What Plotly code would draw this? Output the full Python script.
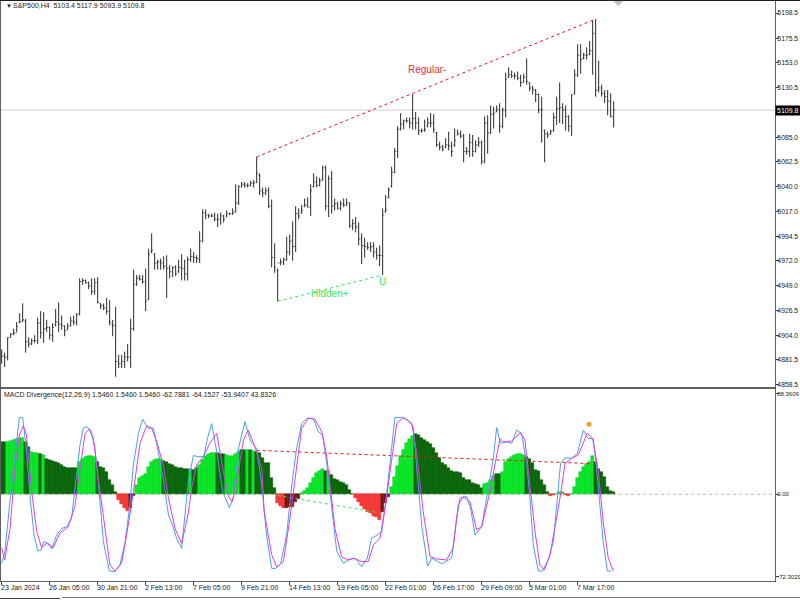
import plotly.graph_objects as go

# ---------- price data (S&P500, H4) ----------
high = [4891,4888,4902,4906,4910,4916,4924,4933,4919,4902,4901,4904,4920,4926,4925,4918,4912,4915,4928,4934,
4922,4913,4915,4921,4922,4924,4956,4956,4955,4953,4956,4956,4957,4933,4933,4938,4936,4918,4930,4886,
4886,4889,4896,4919,4964,4959,4959,4959,4965,4983,4997,4979,4973,4974,4976,4977,4968,4967,4968,4973,
4978,4973,4976,4983,4980,4977,4999,5019,5019,5015,5015,5016,5015,5016,5014,5018,5016,5020,5042,5041,
5044,5044,5043,5045,5046,5067,5052,5039,5039,5039,5028,4988,4965,4974,4975,4994,4996,5008,5022,5020,
5023,5029,5030,5042,5052,5049,5048,5059,5059,5050,5054,5029,5026,5027,5029,5029,5025,5010,5012,5007,
4997,4993,4989,4989,4989,4984,4986,5020,5032,5039,5058,5075,5095,5107,5101,5103,5103,5124,5108,5103,
5093,5101,5103,5107,5106,5090,5081,5078,5084,5090,5081,5093,5092,5091,5088,5076,5088,5087,5082,5085,
5082,5104,5105,5114,5113,5114,5116,5112,5144,5149,5146,5144,5145,5142,5143,5157,5135,5132,5129,5125,
5122,5092,5090,5092,5107,5122,5135,5116,5114,5105,5124,5147,5170,5170,5162,5167,5173,5192,5193,5155,
5133,5128,5128,5125,5117.9]
low = [4878,4875,4881,4902,4904,4907,4915,4916,4888,4893,4895,4897,4896,4901,4897,4907,4900,4898,4912,4907,
4909,4903,4909,4912,4913,4913,4922,4950,4951,4946,4941,4941,4933,4928,4927,4923,4913,4903,4866,4874,
4874,4874,4880,4874,4908,4949,4954,4951,4926,4936,4979,4964,4964,4964,4964,4938,4956,4957,4958,4961,
4954,4954,4954,4971,4970,4970,4970,4989,5010,5011,5012,5008,5003,5005,5007,5012,5014,5014,5016,5023,
5039,5039,5039,5040,5039,5043,5032,5030,5032,5020,4966,4961,4935,4968,4968,4972,4977,4972,4980,5010,
5015,5021,5021,5013,5039,5039,5040,5045,5018,5012,5015,5018,5019,5018,5021,5022,5002,5000,4998,4986,
4969,4975,4982,4980,4975,4973,4967,4959,5016,5029,5039,5052,5066,5091,5092,5098,5093,5092,5092,5087,
5089,5090,5094,5094,5089,5076,5073,5072,5075,5073,5067,5076,5087,5084,5062,5069,5067,5067,5071,5076,
5060,5061,5070,5088,5093,5108,5089,5093,5103,5139,5139,5138,5137,5131,5135,5133,5127,5124,5117,5107,
5080,5062,5084,5087,5090,5096,5098,5097,5091,5090,5086,5124,5140,5143,5156,5156,5160,5142,5122,5126,
5122,5116,5105,5103,5093.9]
close = [4885,4884,4902,4905,4906,4912,4916,4918,4898,4896,4899,4899,4915,4906,4910,4911,4904,4911,4916,4914,
4913,4908,4912,4917,4916,4923,4953,4954,4952,4949,4944,4952,4934,4931,4929,4926,4916,4913,4880,4878,
4880,4884,4884,4910,4950,4956,4955,4953,4935,4978,4982,4970,4971,4970,4967,4965,4962,4966,4960,4966,
4965,4960,4973,4976,4975,4974,4990,5016,5014,5013,5013,5010,5010,5013,5010,5015,5015,5016,5025,5040,
5042,5041,5041,5043,5043,5052,5036,5034,5036,5022,4975,4966,4970,4971,4973,4980,4990,4985,5015,5013,
5018,5023,5021,5036,5044,5041,5045,5057,5022,5047,5022,5024,5020,5024,5023,5025,5004,5006,5003,4992,
4986,4985,4984,4985,4980,4977,4977,5014,5019,5037,5053,5072,5092,5097,5100,5100,5098,5102,5098,5091,
5091,5092,5098,5098,5092,5078,5076,5074,5078,5077,5072,5082,5088,5086,5072,5072,5080,5072,5078,5080,
5063,5098,5089,5106,5107,5110,5095,5110,5138,5142,5141,5141,5139,5135,5140,5136,5130,5128,5124,5110,
5110,5088,5087,5090,5103,5111,5112,5110,5104,5095,5124,5142,5160,5156,5160,5160,5164,5180,5128,5130,
5125,5122,5118,5104,5109.8]
open_ = [4888,4885,4884,4902,4905,4906,4916,4917,4917,4898,4896,4899,4899,4915,4906,4910,4911,4904,4913,4916,
4914,4912,4909,4913,4917,4916,4924,4953,4954,4952,4949,4944,4952,4933,4931,4929,4926,4914,4913,4880,
4878,4880,4884,4884,4910,4951,4956,4955,4953,4937,4980,4978,4970,4971,4970,4967,4965,4962,4966,4962,
4966,4965,4960,4973,4976,4975,4974,4990,5016,5014,5013,5013,5010,5010,5013,5012,5015,5015,5017,5025,
5040,5042,5041,5041,5043,5044,5050,5036,5034,5036,5022,4975,4963,4970,4971,4973,4980,4990,4985,5015,
5016,5022,5023,5021,5040,5044,5041,5046,5057,5022,5047,5022,5024,5020,5024,5023,5025,5004,5006,5003,
4992,4986,4985,4984,4985,4980,4977,4977,5017,5030,5040,5053,5072,5093,5097,5100,5100,5098,5102,5098,
5091,5091,5095,5098,5098,5089,5078,5076,5076,5078,5077,5078,5087,5088,5086,5072,5072,5080,5072,5078,
5080,5063,5098,5089,5106,5108,5110,5095,5110,5140,5142,5141,5141,5139,5135,5140,5135,5130,5128,5124,
5110,5091,5088,5088,5091,5103,5111,5112,5110,5104,5095,5125,5142,5160,5157,5160,5161,5164,5180,5128,
5130,5125,5122,5118,5103.4]

# ---------- MACD histogram ----------
hist = [46.2,45.6,46.2,47.1,47.7,48.8,49.1,49.1,45.6,41.8,37.4,36.5,36,35,34.5,31,30,29.2,28,27.2,
25.7,24.3,23.4,23.1,23.1,23.4,28,31,32.7,33.3,33.6,32.7,28.7,24.3,22.8,19.3,12.6,8.2,1.8,-5,
-8.8,-11.7,-14.6,-12.3,-1.2,8.2,14,16.4,17.5,24.3,28,30,31,31,29.2,28,26.9,25.7,24.3,23.4,
22.8,22.2,21.9,22.2,21.3,22.8,25.7,30,33.9,35.7,36.3,36.3,36.3,35.7,35,34.5,33.9,33.9,35,37.4,
38.6,38.9,38.9,38.9,38.3,37.4,36,31.6,27.8,27.2,14,5.3,-7.9,-9.9,-12.3,-12.3,-10.8,-10.8,-6.4,-4.1,
0.9,2.9,5.8,9.6,14,18.4,20.5,22.2,20.5,20.5,17,13.5,12.6,11.1,9.6,8.2,3.8,0.3,-3.5,-6.4,
-9.9,-12.9,-15.2,-16.7,-18.7,-20.2,-22.2,-15.8,-7.9,-2,6.7,15.5,24.9,33.9,38.9,44.7,48.2,51.5,52.6,52,
49.7,47.7,46.2,43.9,40.4,36,31.6,27.2,25.7,22.8,20.5,19.9,19.3,18.4,14,12.6,12.6,9.6,8.8,8.2,
5.3,8.8,9.6,12.6,16.4,17.5,17.5,19.3,28,31,33,34.5,35,35,34.5,33,31,27.2,21.3,20.5,
12.6,8.2,1.8,-1.5,-0.9,0.6,1.8,1.8,-0.6,-1.8,0.3,6.7,14.6,19.3,23.7,26.6,28,33.6,28,22.2,
19.3,14.9,6.7,2.9,1.8]
hist_state = ("DDLLLLLLDDLLLDL" "DDDDDDDDDDD" "LLLLLL" "DDDDDDD" "RRRR" "MM" "LLLLLLLLL" "DDDDDDDDD" "L" "DD"
              "LLLLLL" "DDD" "LLLLL" "DDLDLD" "DDDDDD" "RRR" "MMMMM" "LLLLLLLL" "D" "L" "DDDDDDDD"
              "RRRRRRRRR" "MMM" "LLLLLLLL" "DDDDDDDDDDDDDDDDDDDDDDD" "LLLL" "DD" "LLLLLLLL" "DDDDDDDD"
              "RR" "LLL" "RR" "LLLLLLLL" "DDDDDDD")
state_colors = {"L": "#00f020", "D": "#046a04", "R": "#ff3a3a", "M": "#7d1515"}
state_edges = {"L": "#12b830", "D": "#0a500a", "R": "#d82424", "M": "#601010"}

# ---------- MACD lines (values read at vertices) ----------
blue_x = [0,1.1,2.8,4.4,5.9,7,8.1,9.4,10.8,12,13,14.1,15.6,16.7,18.3,20,21.7,23.3,24.8,26.1,27.2,28.1,29.7,31.1,32.6,33.9,35.9,37.8,39.4,41.1,42.6,43.9,45.6,47,48.9,50.6,52.2,53.9,55.6,57.2,58.3,60,61.1,62.2,63.9,65.6,67.4,68.6,70,71.7,73.7,75.9,77.2,78.9,81.1,82.8,85,86.7,88.3,90,91.4,93,95,96.7,98.3,100,101.7,103.9,105.5,107,108.3,110,111.7,113.9,115.5,117.8,120,121.9,123.3,125,126.7,128.3,130,131.1,133.3,135.5,137.2,138.5,140,142,143.3,146.7,150,151.7,152.8,155,156.3,157.8,160,162.2,163.9,165,166.3,168.3,170,171.7,173.3,175,176.1,177.2,178.9,180.3,182.2,183.9,185.2,186.3,187.8,190,191.9,193.9,195.5,197.2,198.3,199.4,200.5,201.9,203.3]
blue_y = [-60.5,-50,-5,34.5,67.5,67.5,43,-0.6,-35.7,-49.4,-49.4,-41.5,-43,-48,-35.7,-30,-28.4,-21,11,43,58,59.4,56.4,40,-0.6,-41.5,-67.3,-67.8,-62,-43,-12.3,25.7,53.5,65.8,58,58,37.4,12.6,-18,-28.4,-38.6,-47.4,-18,11,34,33,33,49,62,37.4,2.3,-11.7,-3.5,40,63.7,47.7,40,8,-35.7,-65,-65,-60.5,-35.7,8,40,62,66.7,66.7,55,52,28.7,-12.3,-50,-60.5,-57.6,-56,-63.5,-56,-38.6,-36,-32.7,-0.6,43,67.5,67.5,65,59,17,-27,-63,-56,-61,-56,-21,-3,-2,-12,-35.7,-28.4,5,31.6,58.5,44.7,46,44.7,56.4,53.5,27,-3.5,-44.4,-67.3,-67.3,-57.6,-41.5,-5,27,32,31.6,36,56.4,49,49,23,-6.4,-41.5,-67.3,-67.3]
magenta_x = [0,1,2.8,4.4,5.9,7.2,8.3,10,11.7,13.3,15,17.2,19.4,22.2,24.4,26.1,27.8,29.2,30.6,32.2,34.4,36.1,37.8,40,42.2,43.9,46.1,48.3,50,51.7,53.9,55.6,57.8,60,62.2,63.3,65,67.2,69.4,71.7,73.9,75.6,76.9,78.9,80.6,82.2,84.4,86.7,87.5,90,91.7,93.9,96.1,98.3,100,102.2,104.4,106.7,108.3,111.1,113.3,115.5,117.2,120,122.2,123.9,126.1,127.8,130,131.7,133.9,136.7,138.3,140.5,142.8,145,148.3,150.5,152.2,153.9,156.1,158.3,160,162.8,164.4,166.1,167.2,170,172.8,174.4,176.1,177.8,179.4,180.9,182.8,184.4,186.1,187.8,190,192.2,193.9,195.2,197,198.9,200.5,202.2,203.9]
magenta_y = [-47,-57.6,-30,22.8,52,60,52,2.3,-32.7,-46.8,-43,-46.8,-34,-28.4,-10.8,22.8,53.5,57,49,14,-30,-62,-67.3,-60.5,-27,2.3,44.7,60,58,46,25.7,-3.5,-30,-43,-16.7,5,25.7,33,44.7,53.5,20,-2,-6.4,20,47.7,56.4,41.8,22.8,-15,-53,-64,-59,-21,22.8,58,66.7,65.8,55,34.5,-30,-54.7,-57.6,-56,-59,-59,-44.4,-38.6,-12.3,31.6,62.3,67.5,62.3,37.4,-15,-54.7,-56.7,-57.6,-47,-9,-2,-6.4,-31,-28.4,2.3,25.7,49,46,46.8,54,47.7,8,-33,-62,-66.4,-53,-30,-3.5,27,31.6,34.5,46,53.5,49,20,-24,-56,-67]

# ---------- divergence lines and labels ----------
reg_x, reg_y = [85, 198], [5067, 5193]
hid_x, hid_y = [92, 127], [4935, 4959]
macd_reg_x, macd_reg_y = [85, 196], [38.6, 27]
macd_hid_x, macd_hid_y = [92, 125], [-1, -15.8]
signal_x, signal_y = [195.8], [61.4]
top_mark_x, top_mark_y = [205.5], [5209]
last_price = 5109.8

price_ticks = [5198.5,5175.5,5153.0,5130.5,5085.0,5062.5,5040.0,5017.0,4994.5,4972.0,4949.0,4926.5,4904.0,4881.5,4858.5]
macd_tick_vals = [88.3609, 0, -72.3029]
macd_tick_text = ["88.3609", "0.00", "-72.3029"]
time_pos = [0,16,32,48,64,80,96,112,128,144,160,176,192]
time_labels = ["23 Jan 2024","26 Jan 05:00","30 Jan 21:00","2 Feb 13:00","7 Feb 05:00","9 Feb 21:00","14 Feb 13:00",
               "19 Feb 05:00","22 Feb 01:00","26 Feb 17:00","29 Feb 09:00","5 Mar 01:00","7 Mar 17:00"]

FONT = "Liberation Sans"
W, H, ML, MR, MT, MB = 800, 600, 1, 25, 1, 19
PW, PH = W - ML - MR, H - MT - MB
def px(x): return (x - ML) / PW
def py(y): return (H - MB - y) / PH

idx = list(range(len(high)))
fig = go.Figure()
fig.add_trace(go.Ohlc(x=idx, open=open_, high=high, low=low, close=close, xaxis="x", yaxis="y", tickwidth=0.34,
                      increasing=dict(line=dict(color="#2a2a2a", width=1)),
                      decreasing=dict(line=dict(color="#2a2a2a", width=1)), hoverinfo="skip"))
fig.add_trace(go.Scatter(x=reg_x, y=reg_y, mode="lines", line=dict(color="#e8182c", width=1, dash="3px,3px")))
fig.add_trace(go.Scatter(x=hid_x, y=hid_y, mode="lines", line=dict(color="#30e850", width=1, dash="3px,3px")))
fig.add_trace(go.Scatter(x=top_mark_x, y=top_mark_y, mode="markers", marker=dict(color="#c0c0c0", size=7, symbol="diamond")))

fig.add_trace(go.Bar(x=idx, y=hist, xaxis="x2", yaxis="y2", width=1.0,
                     marker=dict(color=[state_colors[s] for s in hist_state],
                                 line=dict(width=0.5, color=[state_edges[s] for s in hist_state]))))
fig.add_trace(go.Scatter(x=macd_reg_x, y=macd_reg_y, xaxis="x2", yaxis="y2", mode="lines",
                         line=dict(color="#e01818", width=1, dash="3px,3px")))
fig.add_trace(go.Scatter(x=macd_hid_x, y=macd_hid_y, xaxis="x2", yaxis="y2", mode="lines",
                         line=dict(color="#30e850", width=1, dash="3px,3px")))
fig.add_trace(go.Scatter(x=blue_x, y=blue_y, xaxis="x2", yaxis="y2", mode="lines", line=dict(color="#4a9fe8", width=1)))
fig.add_trace(go.Scatter(x=magenta_x, y=magenta_y, xaxis="x2", yaxis="y2", mode="lines", line=dict(color="#e03ce8", width=1)))
fig.add_trace(go.Scatter(x=signal_x, y=signal_y, xaxis="x2", yaxis="y2", mode="markers", marker=dict(color="#f5a31e", size=5)))

x_range = [-0.22, -0.22 + PW / 3]
y2_range = [-76.05, 92.4]
axis_line = dict(showline=True, linecolor="#606060", linewidth=1, mirror=True, showgrid=False, zeroline=False, automargin=False)
annos = []
def text(x, y, s, color="#202020", size=7, xanchor="left", xref="paper", yref="paper", **kw):
    annos.append(dict(x=x, y=y, text=s, xref=xref, yref=yref, showarrow=False, xanchor=xanchor, yanchor="middle",
                      font=dict(family=FONT, size=size, color=color), **kw))

text(px(4), py(6), "▼", size=6)
text(px(11), py(6), "S&P500,H4&nbsp;&nbsp;5103.4 5117.9 5093.9 5109.8")
text(px(2), py(395), "MACD Divergence(12,26,9) 1.5460 1.5460 1.5460 -62.7881 -64.1527 -53.9407 43.8326")
text(141.8, 5147, "Regular-", color="#e8303c", size=10, xanchor="center", xref="x", yref="y")
text(109.4, 4941.7, "Hidden+", color="#38e858", size=10, xanchor="center", xref="x", yref="y")
text(126.8, 4953.5, "U", color="#38e858", size=10, xanchor="center", xref="x", yref="y")
for p, lab in zip(time_pos, time_labels):
    text(p - 0.2, y2_range[0], lab, xref="x2", yref="y2", yshift=-6.5, xshift=-2)
# data-anchored with a shift, so that the tag does not push the plot margin
text(x_range[1] - 0.01, last_price, "5109.8", color="#ffffff", xref="x", yref="y", xshift=0,
     bgcolor="#000000", borderpad=1)

shapes = [
    dict(type="line", xref="x", yref="y", x0=x_range[0], x1=x_range[1], y0=last_price, y1=last_price,
         line=dict(color="#cfcfcf", width=1), layer="below"),
    dict(type="line", xref="x2", yref="y2", x0=x_range[0], x1=x_range[1], y0=0, y1=0,
         line=dict(color="#b8b8b8", width=1, dash="3px,3px"), layer="below"),
    dict(type="line", xref="paper", yref="paper", x0=px(0), x1=px(800), y0=py(0.5), y1=py(0.5),
         line=dict(color="#202020", width=1)),
    dict(type="line", xref="paper", yref="paper", x0=px(62), x1=px(800), y0=py(597.5), y1=py(597.5),
         line=dict(color="#808080", width=1)),
    dict(type="line", xref="paper", yref="paper", x0=px(0), x1=px(60), y0=py(598.5), y1=py(598.5),
         line=dict(color="#404040", width=1)),
]

fig.update_layout(
    width=W, height=H, margin=dict(l=ML, r=MR, t=MT, b=MB, pad=0), showlegend=False, bargap=0,
    paper_bgcolor="white", plot_bgcolor="white", annotations=annos, shapes=shapes,
    font=dict(family=FONT, size=7, color="#202020"),
    xaxis=dict(domain=[0, 1], range=x_range, anchor="y", rangeslider=dict(visible=False), showticklabels=False, ticks="", **axis_line),
    yaxis=dict(domain=[py(386.5), 1], range=[4857.1, 5209.47], side="right", anchor="x", tickmode="array",
               tickvals=price_ticks, ticktext=[f"{v:.1f}" for v in price_ticks], ticks="outside", ticklen=3,
               tickcolor="#404040", tickfont=dict(family=FONT, size=6.8), ticklabelstandoff=-3, **axis_line),
    xaxis2=dict(domain=[0, 1], range=x_range, anchor="y2", tickmode="array", tickvals=[p - 0.2 for p in time_pos],
                ticktext=["" for _ in time_pos], ticks="outside", ticklen=3, tickcolor="#404040", **axis_line),
    yaxis2=dict(domain=[0, py(389)], range=y2_range, side="right", anchor="x2", tickmode="array",
                tickvals=macd_tick_vals, ticktext=macd_tick_text, ticks="outside", ticklen=3, tickcolor="#404040",
                tickfont=dict(family=FONT, size=6), ticklabelstandoff=-3, **axis_line),
)
fig.write_html("out.html", config=dict(displayModeBar=False),
               post_script="document.body.style.margin='0';document.body.style.overflow='hidden';")
